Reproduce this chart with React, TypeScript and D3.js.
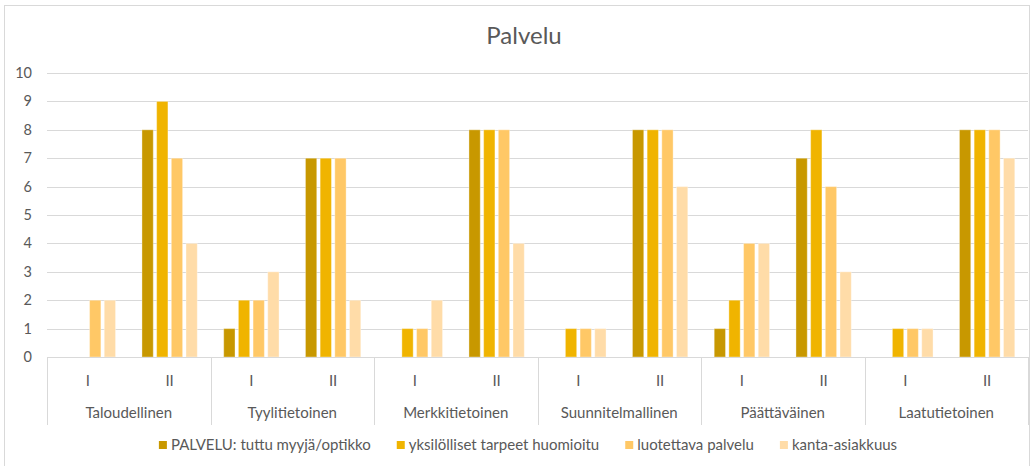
import React, { useEffect, useRef } from "react";
import * as d3 from "d3";

const categories = ["Taloudellinen", "Tyylitietoinen", "Merkkitietoinen", "Suunnitelmallinen", "Päättäväinen", "Laatutietoinen"];
const subCategories = ["I", "II"];
const seriesNames = ["PALVELU: tuttu myyjä/optikko", "yksilölliset tarpeet huomioitu", "luotettava palvelu", "kanta-asiakkuus"];
const seriesColors = ["#C89800", "#F0B400", "#FFC866", "#FFDCA8"];
// values[sub][series] per category
const taloudellinen = [[0, 0, 2, 2], [8, 9, 7, 4]];
const tyylitietoinen = [[1, 2, 2, 3], [7, 7, 7, 2]];
const merkkitietoinen = [[0, 1, 1, 2], [8, 8, 8, 4]];
const suunnitelmallinen = [[0, 1, 1, 1], [8, 8, 8, 6]];
const paattavainen = [[1, 2, 4, 4], [7, 8, 6, 3]];
const laatutietoinen = [[0, 1, 1, 1], [8, 8, 8, 7]];
const yTicks = [0, 1, 2, 3, 4, 5, 6, 7, 8, 9, 10];
const title = "Palvelu";

const W = 1032;
const H = 466;
const FONT = "Lato, 'Open Sans', sans-serif";
const TEXT = "#595959";
const GRID = "#d9d9d9";

export default function App() {
  const ref = useRef<SVGSVGElement>(null);

  useEffect(() => {
    const svg = d3.select(ref.current);
    svg.selectAll("*").remove();

    const values = [taloudellinen, tyylitietoinen, merkkitietoinen, suunnitelmallinen, paattavainen, laatutietoinen];
    const left = 47, right = 1028, top = 73, bottom = 357;

    // border
    svg.append("rect").attr("x", 4.5).attr("y", 5.5).attr("width", 1025).attr("height", 470)
      .attr("fill", "#fff").attr("stroke", GRID);

    svg.append("text").attr("x", 524).attr("y", 44).attr("text-anchor", "middle")
      .attr("font-family", FONT).attr("font-size", 24).attr("fill", TEXT).text(title);

    const y = d3.scaleLinear().domain([0, 10]).range([bottom, top]);
    const x0 = d3.scaleBand<string>().domain(categories).range([left, right]);
    const x1 = d3.scaleBand<string>().domain(subCategories).range([0, x0.bandwidth()]);
    const x2 = d3.scaleBand<string>().domain(seriesNames).range([0, x1.bandwidth()])
      .paddingInner(0.23).paddingOuter(0.9);

    // grid
    svg.append("g").selectAll("line").data(yTicks.filter(t => t > 0)).join("line")
      .attr("x1", left).attr("x2", right)
      .attr("y1", d => Math.round(y(d)) + 0.5).attr("y2", d => Math.round(y(d)) + 0.5)
      .attr("stroke", GRID).attr("stroke-width", 1);

    svg.append("g").selectAll("text").data(yTicks).join("text")
      .attr("x", 32).attr("y", d => y(d)).attr("dy", "0.35em").attr("text-anchor", "end")
      .attr("font-family", FONT).attr("font-size", 14.5).attr("fill", TEXT).text(d => d);

    // bars
    const bars: { c: string; s: string; k: string; v: number }[] = [];
    categories.forEach((c, ci) => subCategories.forEach((s, si) => seriesNames.forEach((k, ki) => {
      bars.push({ c, s, k, v: values[ci][si][ki] });
    })));
    svg.append("g").selectAll("rect").data(bars.filter(b => b.v > 0)).join("rect")
      .attr("x", d => x0(d.c)! + x1(d.s)! + x2(d.k)!)
      .attr("y", d => y(d.v))
      .attr("width", x2.bandwidth())
      .attr("height", d => y(0) - y(d.v))
      .attr("fill", d => seriesColors[seriesNames.indexOf(d.k)])
      .attr("stroke", "#ffffff").attr("stroke-opacity", 0.35).attr("stroke-width", 1);

    // axis line
    svg.append("line").attr("x1", left).attr("x2", right).attr("y1", bottom + 0.5).attr("y2", bottom + 0.5)
      .attr("stroke", GRID);
    // category separators
    const seps = categories.map(c => x0(c)!).concat([right]);
    svg.append("g").selectAll("line").data(seps).join("line")
      .attr("x1", d => Math.round(d) + 0.5).attr("x2", d => Math.round(d) + 0.5)
      .attr("y1", bottom).attr("y2", 425).attr("stroke", GRID);

    // sub labels
    const subs: { c: string; s: string }[] = [];
    categories.forEach(c => subCategories.forEach(s => subs.push({ c, s })));
    svg.append("g").selectAll("text").data(subs).join("text")
      .attr("x", d => x0(d.c)! + x1(d.s)! + x1.bandwidth() / 2).attr("y", 381).attr("dy", "0.35em")
      .attr("text-anchor", "middle").attr("font-family", FONT).attr("font-size", 15).attr("fill", TEXT)
      .text(d => d.s);

    svg.append("g").selectAll("text").data(categories).join("text")
      .attr("x", d => x0(d)! + x0.bandwidth() / 2).attr("y", 413).attr("dy", "0.35em")
      .attr("text-anchor", "middle").attr("font-family", FONT).attr("font-size", 15).attr("fill", TEXT)
      .text(d => d);

    // legend
    const lg = svg.append("g");
    const items = lg.selectAll("g").data(seriesNames).join("g");
    items.append("rect").attr("width", 8).attr("height", 8).attr("y", -4)
      .attr("fill", (d, i) => seriesColors[i]);
    items.append("text").attr("x", 12).attr("dy", "0.35em").attr("font-family", FONT)
      .attr("font-size", 15).attr("fill", TEXT).text(d => d);
    const widths: number[] = [];
    items.each(function () {
      const t = d3.select(this).select("text").node() as SVGTextElement;
      widths.push(12 + t.getComputedTextLength());
    });
    const gap = 26;
    const total = widths.reduce((a, b) => a + b, 0) + gap * (widths.length - 1);
    let cx = 528 - total / 2;
    items.attr("transform", (d, i) => {
      const tx = cx;
      cx += widths[i] + gap;
      return `translate(${tx},445)`;
    });
  }, []);

  return (
    <svg ref={ref} width={W} height={H} style={{ position: "absolute", left: 0, top: 0, background: "#fff" }} />
  );
}
